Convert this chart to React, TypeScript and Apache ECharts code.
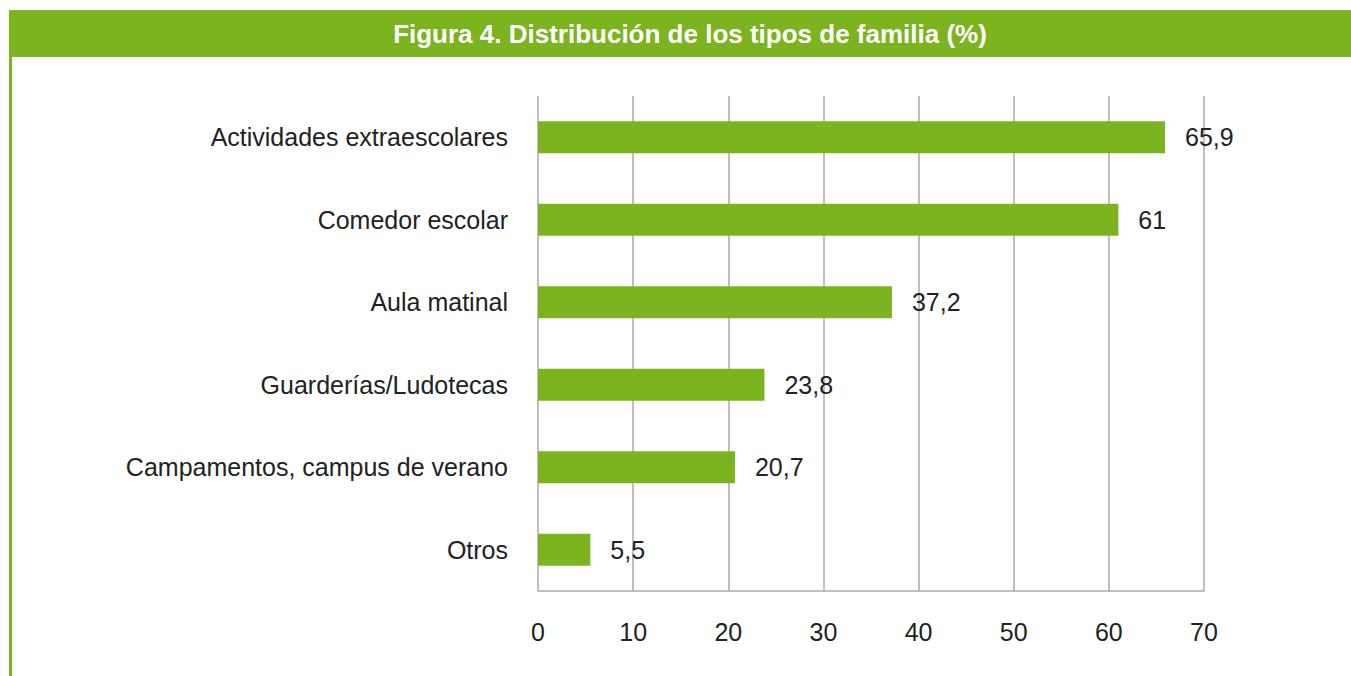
import React, { useEffect, useRef } from "react";
import * as echarts from "echarts";

const titleText = "Figura 4. Distribución de los tipos de familia (%)";
const categories = [
  "Actividades extraescolares",
  "Comedor escolar",
  "Aula matinal",
  "Guarderías/Ludotecas",
  "Campamentos, campus de verano",
  "Otros",
];
const values = [65.9, 61, 37.2, 23.8, 20.7, 5.5];
const xTicks = { min: 0, max: 70, interval: 10 };

const GREEN = "#7bb41f";
const FONT = "'Liberation Sans', Arial, sans-serif";

export default function App() {
  const ref = useRef<HTMLDivElement>(null);
  useEffect(() => {
    if (!ref.current) return;
    const chart = echarts.init(ref.current, null, { renderer: "svg" });
    chart.setOption({
      animation: false,
      backgroundColor: "#ffffff",
      textStyle: { fontFamily: FONT },
      graphic: [
        { type: "rect", shape: { x: 9, y: 10, width: 1342, height: 47 }, style: { fill: GREEN } },
        { type: "rect", shape: { x: 9, y: 57, width: 3, height: 619 }, style: { fill: GREEN } },
        {
          type: "text",
          x: 690,
          y: 34,
          style: {
            text: titleText,
            fill: "#ffffff",
            font: `bold 26px ${FONT}`,
            textAlign: "center",
            textVerticalAlign: "middle",
          },
        },
      ],
      grid: { left: 538, right: 147, top: 96, bottom: 85, containLabel: false },
      xAxis: {
        type: "value",
        min: xTicks.min,
        max: xTicks.max,
        interval: xTicks.interval,
        axisLine: { show: true, lineStyle: { color: "#aaaaaa", width: 1.5 } },
        axisTick: { show: false },
        splitLine: { show: true, lineStyle: { color: "#aaaaaa", width: 1.5 } },
        axisLabel: { color: "#222222", fontSize: 25, margin: 28, fontFamily: FONT },
      },
      yAxis: {
        type: "category",
        inverse: true,
        data: categories,
        axisLine: { show: false },
        axisTick: { show: false },
        axisLabel: { color: "#222222", fontSize: 25, margin: 30, fontFamily: FONT },
      },
      series: [
        {
          type: "bar",
          data: values,
          barWidth: 32,
          itemStyle: { color: GREEN },
          label: {
            show: true,
            position: "right",
            distance: 20,
            color: "#222222",
            fontSize: 25,
            fontFamily: FONT,
            formatter: (p: any) => String(p.value).replace(".", ","),
          },
        },
      ],
    });
    return () => chart.dispose();
  }, []);
  return (
    <div
      ref={ref}
      style={{ position: "fixed", left: 0, top: 0, width: 1351, height: 676 }}
    />
  );
}
